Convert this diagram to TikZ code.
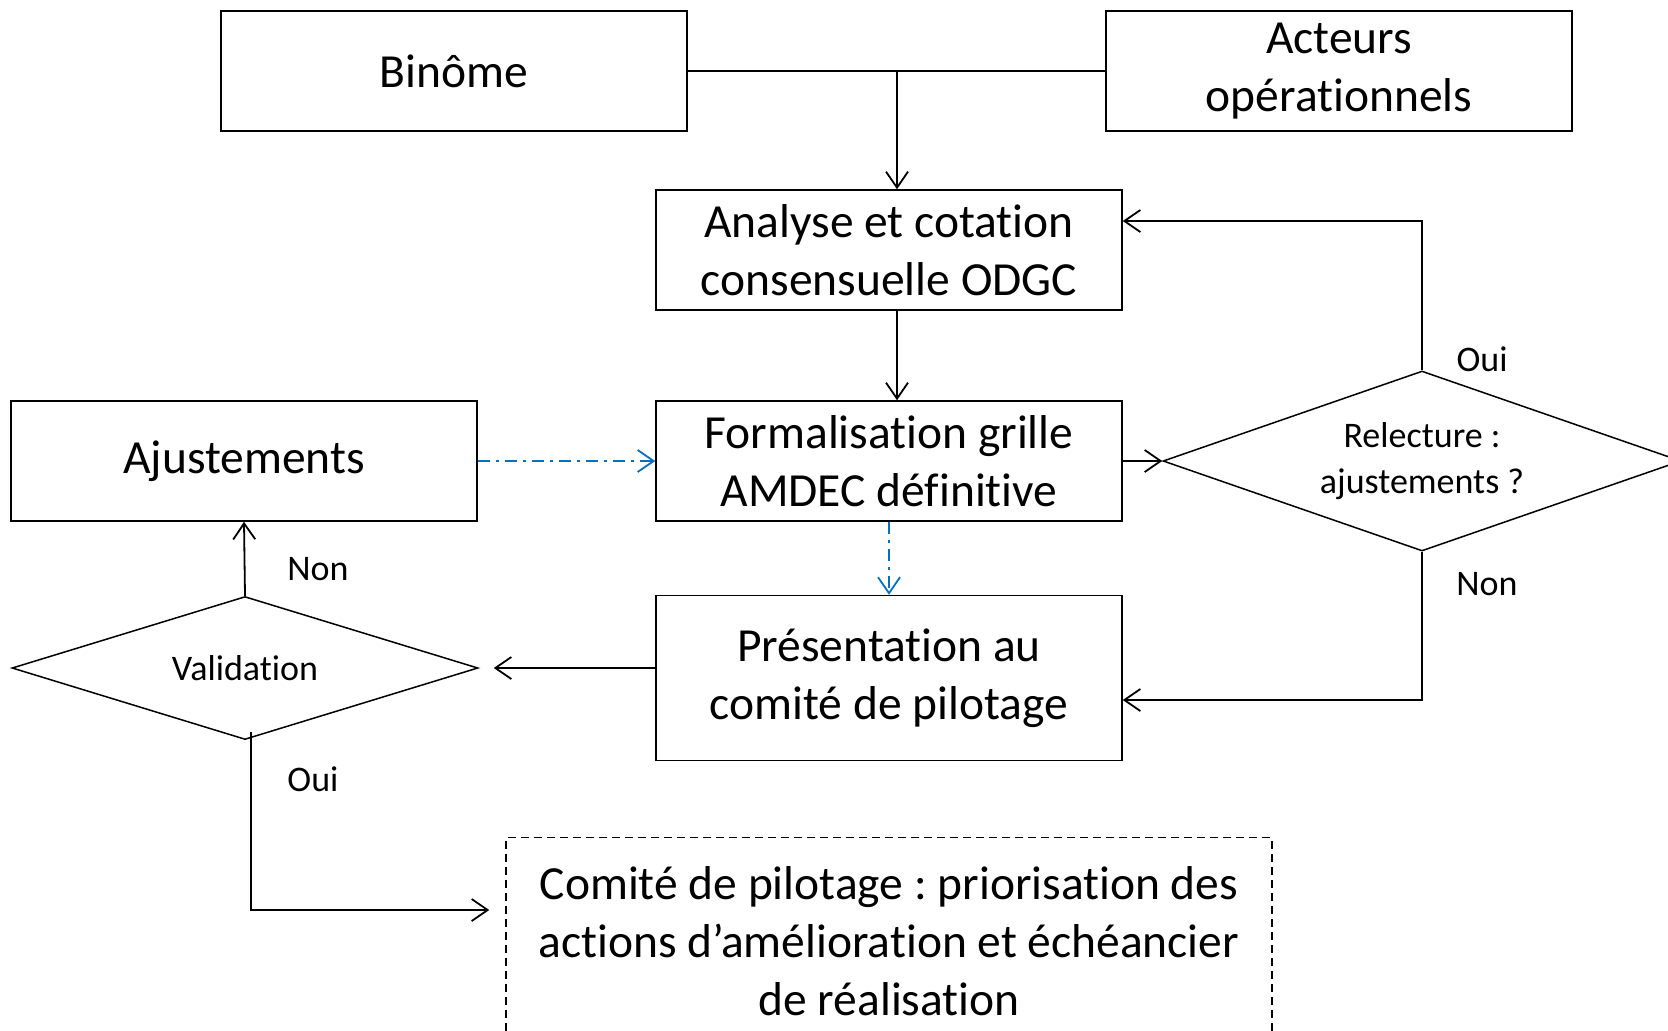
\documentclass[tikz,border=0pt]{standalone}
\usepackage{fontspec}
\setmainfont{Carlito}[Ligatures=NoCommon]
\usetikzlibrary{arrows.meta,shapes.geometric}
\definecolor{bleuLien}{RGB}{0,112,192}
\frenchspacing

\begin{document}
\begin{tikzpicture}[x=0.5pt, y=-0.5pt,
    etape/.style={draw, line width=0.75pt, minimum width=233pt, minimum height=60pt,
      align=center, inner sep=2pt, font=\fontsize{23.75pt}{29pt}\selectfont},
    test/.style={draw, diamond, line width=0.75pt, aspect=2.9, inner sep=0pt,
      align=center, font=\fontsize{18pt}{22.8pt}\selectfont},
    etiquette/.style={font=\fontsize{18pt}{22pt}\selectfont},
    fleche/.style={line width=0.9pt, -{Straight Barb[length=8pt,width=11pt]}},
    lienBleu/.style={fleche, color=bleuLien, dash pattern=on 6pt off 3pt on 1.5pt off 3pt}]

  \useasboundingbox (0,0) rectangle (1668,1030);

  % boites
  \node[etape] (binome) at (454,71) {Binôme};
  \node[etape] (acteurs) at (1339,71) {Acteurs\\opérationnels};
  \node[etape] (analyse) at (889,250) {Analyse et cotation\\consensuelle ODGC};
  \node[etape] (formal) at (889,461) {Formalisation grille\\AMDEC définitive};
  \node[etape] (ajust) at (244,461) {Ajustements};
  \node[etape, minimum height=82.5pt] (present) at (889,678) {Présentation au\\comité de pilotage};
  \node[etape, dash pattern=on 4pt off 2.5pt, minimum width=383pt, minimum height=103.5pt]
    (comite) at (889,941) {Comité de pilotage : priorisation des\\actions d’amélioration et échéancier\\de réalisation};

  % decisions
  \node[test, minimum width=259pt, minimum height=90pt] (relect) at (1422,461) {Relecture :\\ajustements ?};
  \node[test, minimum width=233pt, minimum height=71.5pt] (valid) at (245,668) {Validation};

  % points de passage
  \coordinate (jonction) at (897,71);
  \coordinate (retourOui) at (1422,221);
  \coordinate (retourNon) at (1422,700);
  \coordinate (departOui) at (251,732);
  \coordinate (coude) at (251,910);

  % liens
  \draw[line width=0.9pt] (binome.east) -- (acteurs.west);
  \draw[fleche] (jonction) -- (jonction |- analyse.north);
  \draw[fleche] (jonction |- analyse.south) -- (jonction |- formal.north);
  \draw[fleche] (formal.east) -- (relect.west);
  \draw[fleche] (relect.north) -- (retourOui) -- (analyse.east |- retourOui);
  \draw[fleche] (relect.south) -- (retourNon) -- (present.east |- retourNon);
  \draw[lienBleu] (ajust.east) -- (formal.west);
  \draw[lienBleu] (formal.south) -- (present.north);
  \draw[fleche, shorten >=7.5pt] (present.west |- valid.east) -- (valid.east);
  \draw[fleche] (valid.north) -- (ajust.south);
  \draw[fleche, shorten >=8pt] (departOui) -- (coude) -- (comite.west |- coude);

  % etiquettes
  \node[etiquette] (ouiRelect) at (1482,359) {Oui};
  \node[etiquette] (nonRelect) at (1487,584) {Non};
  \node[etiquette] (nonValid) at (318,569) {Non};
  \node[etiquette] (ouiValid) at (313,779) {Oui};
\end{tikzpicture}
\end{document}
